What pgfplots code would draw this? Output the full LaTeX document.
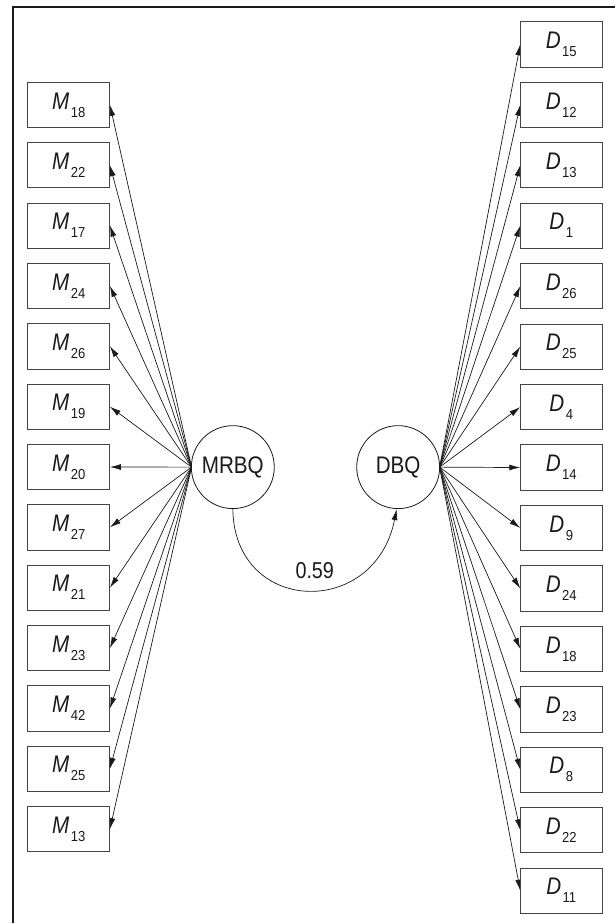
\documentclass[border=0pt]{standalone}
\usepackage{pgfplots}
\pgfplotsset{compat=1.18}
\usepackage{pgfplotstable}
\usepackage{fontspec}
\setmainfont{Liberation Sans}
\usetikzlibrary{arrows.meta}
\newcommand{\sq}[1]{\scalebox{0.86}[1]{#1}}
\newcommand{\lbl}[2]{\scalebox{0.86}[1]{\fontsize{24}{26}\selectfont\itshape #1}\hspace{1.5pt}\raisebox{-8pt}{\scalebox{0.9}[1]{\fontsize{14.5}{16}\selectfont #2}}}
\definecolor{ink}{HTML}{1A1A1A}
\definecolor{boxc}{HTML}{444444}

\pgfplotstableread{
y n
105.0 18
165.4 22
225.8 17
286.2 24
346.6 26
407.0 19
467.4 20
527.8 27
588.2 21
648.6 23
709.0 42
769.4 25
829.8 13
}\Mtab

\pgfplotstableread{
y n
44.4 15
104.9 12
165.4 13
225.9 1
286.4 26
346.9 25
407.4 4
467.9 14
528.4 9
588.9 24
649.4 18
709.9 23
770.4 8
830.9 22
891.4 11
}\Dtab

\pgfplotstableread{
x y t
233.0 467.5 MRBQ
398.5 467.5 DBQ
}\Ctab

\begin{document}
\begin{tikzpicture}
\begin{axis}[
  width=615pt, height=924pt, scale only axis,
  xmin=0, xmax=615, ymin=0, ymax=924,
  y dir=reverse,
  hide axis, clip=false,
]
\path (axis cs:0,0) rectangle (axis cs:615,924);
% frame (top and left edges)
\addplot[line width=1.5pt, color=ink, mark=none] coordinates {(615,7) (13,7) (13,924)};

% arrows MRBQ -> M boxes
\addplot[ink, line width=0.7pt, mark=none,
  quiver={u=191.7-110, v=467.5-\thisrow{y},
    every arrow/.append style={arrows={Latex[length=11pt,width=6pt]-}}}]
  table[x expr=110, y=y] {\Mtab};
% arrows DBQ -> D boxes
\addplot[ink, line width=0.7pt, mark=none,
  quiver={u=440-520.7, v=467.5-\thisrow{y},
    every arrow/.append style={arrows={Latex[length=11pt,width=6pt]-}}}]
  table[x expr=520.7, y=y] {\Dtab};

% M boxes
\addplot[only marks, mark=none, point meta=explicit symbolic,
  nodes near coords={\lbl{M}{\pgfplotspointmeta}},
  every node near coord/.style={anchor=center, draw=boxc, line width=0.9pt, fill=white,
    minimum width=82.3pt, minimum height=45.3pt, inner sep=0pt, text=ink}]
  table[x expr=68.85, y=y, meta=n] {\Mtab};
% D boxes
\addplot[only marks, mark=none, point meta=explicit symbolic,
  nodes near coords={\lbl{D}{\pgfplotspointmeta}},
  every node near coord/.style={anchor=center, draw=boxc, line width=0.9pt, fill=white,
    minimum width=82pt, minimum height=45.3pt, inner sep=0pt, text=ink}]
  table[x expr=561.7, y=y, meta=n] {\Dtab};

% latent variables
\addplot[only marks, mark=none, point meta=explicit symbolic,
  nodes near coords={\sq{\fontsize{24}{26}\selectfont\pgfplotspointmeta}},
  every node near coord/.style={anchor=center, circle, draw=ink, line width=0.8pt, fill=white,
    minimum size=83pt, inner sep=0pt, text=ink}]
  table[x=x, y=y, meta=t] {\Ctab};

% correlation
\draw[ink, line width=0.7pt, arrows={-Latex[length=11pt,width=6pt]}]
  (axis cs:233,509) .. controls (axis cs:234,615) and (axis cs:375,620) .. (axis cs:397,509.5);
\node[text=ink, fill=white, inner sep=1pt] at (axis cs:315,571) {\sq{\fontsize{23}{25}\selectfont 0.59}};
\end{axis}
\end{tikzpicture}
\end{document}
